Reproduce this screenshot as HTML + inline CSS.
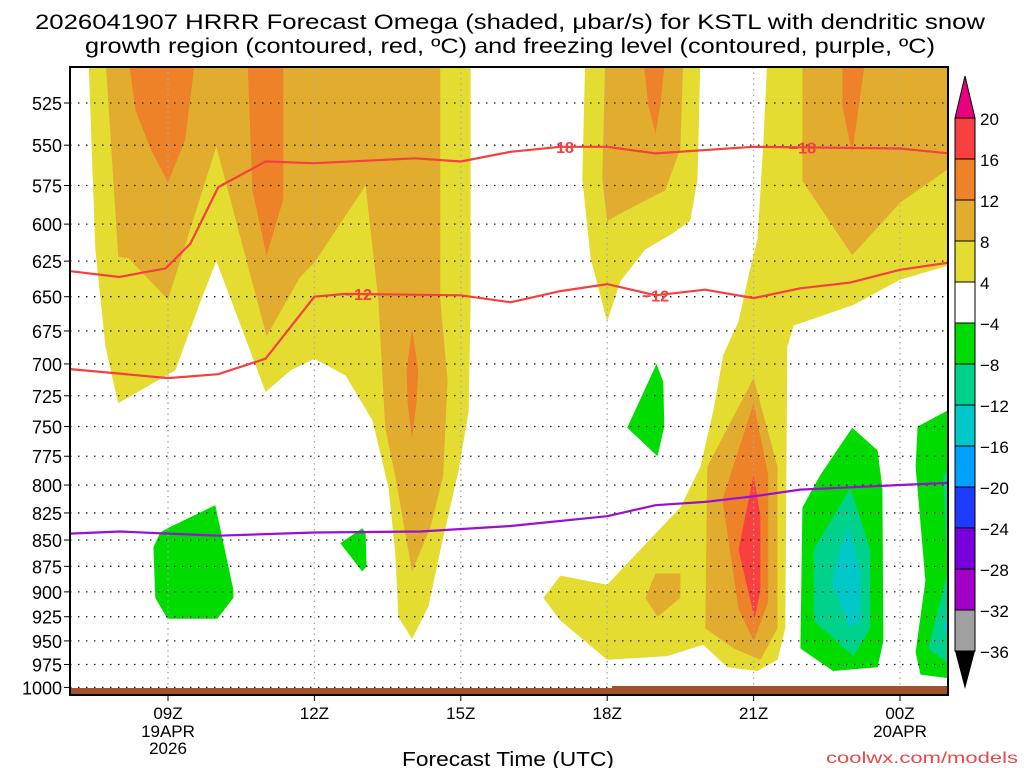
<!DOCTYPE html>
<html><head><meta charset="utf-8"><style>
body{margin:0;background:#fff;}
svg{display:block;font-family:"Liberation Sans",sans-serif;}
</style></head><body>
<svg id="chart" width="1024" height="768" viewBox="0 0 1024 768">
<defs><clipPath id="plotclip"><rect x="70" y="67" width="878" height="628"/></clipPath></defs>
<text x="510" y="29" font-size="21" text-anchor="middle" textLength="950" lengthAdjust="spacingAndGlyphs">2026041907 HRRR Forecast Omega (shaded, μbar/s) for KSTL with dendritic snow</text>
<text x="510" y="53" font-size="21" text-anchor="middle" textLength="850" lengthAdjust="spacingAndGlyphs">growth region (contoured, red, ºC) and freezing level (contoured, purple, ºC)</text>
<g id="plot" clip-path="url(#plotclip)"></g>
<g id="axes"></g>
<g id="cbar"></g>
<text x="508" y="766" font-size="20" text-anchor="middle" textLength="212" lengthAdjust="spacingAndGlyphs">Forecast Time (UTC)</text>
<text x="1018" y="763" font-size="16" fill="#e84848" text-anchor="end" textLength="192" lengthAdjust="spacingAndGlyphs">coolwx.com/models</text>
</svg>
<script>
// ---- data ----
const pressureTicks=[525,550,575,600,625,650,675,700,725,750,775,800,825,850,875,900,925,950,975,1000];
const hourTicks=[9,12,15,18,21,24];
const hourLabels=["09Z","12Z","15Z","18Z","21Z","00Z"];
const dateLabels={9:["19APR","2026"],24:["20APR"]};
const cbarLevels=[20,16,12,8,4,-4,-8,-12,-16,-20,-24,-28,-32,-36];
const cbarColors=["#f94040","#ee8228","#e2ad2e","#e5dc32","#ffffff","#00dc00","#00d28c","#00c8c8","#00a0ff","#1e3cff","#7800dc","#a000c8","#a0a0a0"];
// shaded regions [hour, hPa]
const yellowA=[[7.37,500],[15.2,500],[15.2,654],[15.16,738],[14.95,788],[14.58,860],[14.34,914],[14.0,948],[13.72,925],[13.66,864],[13.52,803],[13.19,745],[12.64,709],[12.0,696],[11.51,705],[11.0,722],[10.48,670],[9.99,625],[9.66,654],[9.15,705],[7.98,731],[7.72,687],[7.51,617]];
const goldA=[[7.72,500],[14.58,500],[14.58,652],[14.73,713],[14.64,792],[14.38,838],[14.0,880],[13.66,793],[13.45,751],[13.31,652],[13.05,575],[12.0,626],[11.71,636],[11.02,679],[9.99,551],[9.0,652],[8.19,623],[7.98,622]];
const orangeA1=[[8.19,500],[8.33,529],[8.64,552],[9.0,573],[9.35,547],[9.56,500]];
const orangeA2=[[10.63,500],[11.36,500],[11.36,584],[11.02,621],[10.73,578]];
const orangeA3=[[14.0,673],[14.13,705],[14.09,731],[14.0,760],[13.91,731],[13.89,705]];
const yellowB=[[17.55,500],[19.91,500],[19.85,571],[19.7,598],[19.3,607],[18.78,617],[18.27,639],[18.0,668],[17.66,623],[17.49,571]];
const goldB=[[17.96,500],[19.56,500],[19.5,552],[19.19,578],[18.27,593],[18.0,598],[17.9,571]];
const orangeB=[[18.74,500],[19.19,500],[19.09,526],[18.99,543],[18.84,526]];
const yellowC=[[21.28,500],[25.3,500],[25.3,625],[24.0,638],[23.04,656],[21.82,671],[21.69,687],[21.65,937],[21.49,970],[21.08,982],[20.46,978],[19.97,954],[19.23,966],[18.0,970],[17.04,929],[16.69,906],[17.04,884],[18.0,893],[18.82,852],[19.5,820],[19.91,784],[20.18,736],[20.38,693],[20.69,668],[20.93,630],[21.08,610],[21.2,548]];
const goldC=[[22.0,500],[25.3,500],[25.3,558],[24.0,586],[23.02,621],[22.0,572]];
const orangeC=[[22.82,500],[23.29,500],[23.02,555],[22.82,527]];
const goldSmall=[[18.78,906],[19.03,925],[19.5,906],[19.5,882],[18.99,882]];
const goldD=[[21.0,711],[21.49,784],[21.49,937],[21.14,970],[20.59,958],[20.01,937],[20.05,784]];
const orangeD=[[21.0,731],[21.3,791],[21.3,910],[21.0,950],[20.69,917],[20.36,813]];
const redD=[[21.0,791],[21.14,828],[21.14,898],[21.02,927],[20.69,859]];
const greenS=[[19.01,700],[19.15,714],[19.17,750],[19.03,775],[18.41,751]];
const green23=[[23.02,751],[23.54,770],[23.64,803],[23.66,950],[23.54,978],[22.63,982],[21.96,958],[22.0,820],[22.37,791]];
const teal23=[[22.98,803],[23.39,859],[23.39,937],[23.04,966],[22.23,929],[22.23,859]];
const cyan23=[[22.94,837],[23.19,882],[23.19,929],[22.98,937],[22.61,893],[22.72,866]];
const greenR=[[25.3,730],[24.36,750],[24.32,784],[24.52,889],[24.32,962],[24.42,986],[25.3,992]];
const tealR=[[25.3,773],[24.89,791],[24.97,882],[24.58,958],[25.3,986]];
const cyanR=[[25.3,886],[24.87,937],[25.3,958]];
const greenL=[[9.97,818],[10.34,898],[10.34,906],[10.01,927],[8.99,927],[8.74,906],[8.70,857],[8.84,843],[8.99,839]];
const greenL2=[[12.98,839],[13.05,843],[13.07,875],[12.98,880],[12.53,853]];
// contour lines
const m18Hours=[7,8,8.95,9.46,10.03,11,12,14.07,15,16.02,17.04,18,18.99,21,24,25];
const m18Press=[632,636,630,613,576,560,561,558,560,554,551,551,555,551,552,555];
const m12Hours=[7,9,10.03,11,12,12.64,15,16.02,17.04,18,18.99,20.01,21,21.96,22.98,24,25];
const m12Press=[704,711,708,696,650,648,649,654,646,641,649,645,651,644,640,631,626];
const frzHours=[7,8.02,9,10.03,12,14.17,16.02,18,18.99,20.01,21,21.96,22.98,25];
const frzPress=[844,842,844,846,843,842,837,828,818,815,810,804,802,798];
const m18LabelHours=[17.04,22.0];
const m12LabelHours=[12.9,18.99];

// ---- scales ----
const NS="http://www.w3.org/2000/svg";
function xOf(h){return 168+(h-9)*48.8;}
function yOf(p){return 103+907*Math.log(p/525);}
function mk(tag,attrs,parent){const e=document.createElementNS(NS,tag);for(const k in attrs)e.setAttribute(k,attrs[k]);parent.appendChild(e);return e;}
const plot=document.getElementById('plot'),axes=document.getElementById('axes'),cbar=document.getElementById('cbar');
mk('rect',{x:70,y:67,width:878,height:628,fill:'#fff'},plot);
const Y="#e5dc32",G="#e2ad2e",O="#ee8228",R="#f94040",GR="#00dc00",T="#00d28c",C="#00c8c8";
const regions=[[yellowA,Y,'omega-4-8-left'],[goldA,G,'omega-8-12-left'],[orangeA1,O,'omega-12-16-a'],[orangeA2,O,'omega-12-16-b'],[orangeA3,O,'omega-12-16-c'],
[yellowB,Y,'omega-4-8-mid'],[goldB,G,'omega-8-12-mid'],[orangeB,O,'omega-12-16-mid'],
[yellowC,Y,'omega-4-8-right'],[goldC,G,'omega-8-12-right'],[orangeC,O,'omega-12-16-right'],[goldSmall,G,'omega-8-12-small'],
[goldD,G,'omega-8-12-21z'],[orangeD,O,'omega-12-16-21z'],[redD,R,'omega-16-20-21z'],
[greenS,GR,'omega-neg4-19z'],[green23,GR,'omega-neg4-23z'],[teal23,T,'omega-neg8-23z'],[cyan23,C,'omega-neg12-23z'],
[greenR,GR,'omega-neg4-edge'],[tealR,T,'omega-neg8-edge'],[cyanR,C,'omega-neg12-edge'],[greenL,GR,'omega-neg4-09z'],[greenL2,GR,'omega-neg4-13z']];
regions.forEach(r=>{
  const e=mk('polygon',{points:r[0].map(d=>xOf(d[0]).toFixed(1)+','+yOf(d[1]).toFixed(1)).join(' '),fill:r[1]},plot);
  
  
});
// grid
pressureTicks.forEach(p=>{mk('line',{x1:70,x2:948,y1:yOf(p),y2:yOf(p),stroke:'#222','stroke-width':1.3,'stroke-dasharray':'1.5 6.5'},plot);});
hourTicks.forEach(h=>{mk('line',{x1:xOf(h),x2:xOf(h),y1:67,y2:695,stroke:'#aaa','stroke-width':1.3,'stroke-dasharray':'1.5 4'},plot);});
// ground
mk('rect',{x:70,y:688,width:878,height:8,fill:'#a0522d'},plot);
mk('rect',{x:612,y:686,width:336,height:10,fill:'#a0522d'},plot);
// lines
function line(hs,ps,col,name){const e=mk('polyline',{points:hs.map((h,i)=>xOf(h).toFixed(1)+','+yOf(ps[i]).toFixed(1)).join(' '),fill:'none',stroke:col,'stroke-width':2.2},plot);
  
  }
line(m18Hours,m18Press,'#f44040','contour-minus18');
line(m12Hours,m12Press,'#f44040','contour-minus12');
line(frzHours,frzPress,'#9a10d0','freezing-level-line');
function interp(hs,ps,h){for(let i=0;i<hs.length-1;i++){if(h>=hs[i]&&h<=hs[i+1]){const t=(h-hs[i])/(hs[i+1]-hs[i]);return ps[i]+t*(ps[i+1]-ps[i]);}}return ps[0];}
function lab(h,p,txt,name){const x=xOf(h),y=yOf(p);
  const e=mk('text',{x:x,y:y+6,'font-size':16,'font-weight':'bold',fill:'#f44040','text-anchor':'middle'},plot);e.textContent=txt;
  
  }
m18LabelHours.forEach(h=>lab(h,interp(m18Hours,m18Press,h),'−18','contour-label-minus18'));
m12LabelHours.forEach(h=>lab(h,interp(m12Hours,m12Press,h),'−12','contour-label-minus12'));
// frame
mk('rect',{x:70,y:67,width:878,height:628,fill:'none',stroke:'#000','stroke-width':2},axes);
pressureTicks.forEach(p=>{const y=yOf(p);mk('line',{x1:64,x2:70,y1:y,y2:y,stroke:'#000'},axes);
  const t=mk('text',{x:62,y:y+7,'font-size':18,'text-anchor':'end'},axes);t.textContent=p;
  
  });
hourTicks.forEach((h,i)=>{const x=xOf(h);mk('line',{x1:x,x2:x,y1:695,y2:701,stroke:'#000'},axes);
  const t=mk('text',{x:x,y:719,'font-size':17,'text-anchor':'middle'},axes);t.textContent=hourLabels[i];
  
  
  (dateLabels[h]||[]).forEach((s,j)=>{const d=mk('text',{x:x,y:737+j*17,'font-size':17,'text-anchor':'middle'},axes);d.textContent=s;
    
    });});
// colorbar
const cbTop=118,seg=41,cx=955,cw=20;
mk('polygon',{points:`${cx},${cbTop} ${cx+cw},${cbTop} ${cx+cw/2},76`,fill:'#e6007f',stroke:'#000'},cbar);
cbarColors.forEach((c,i)=>{const r=mk('rect',{x:cx,y:cbTop+i*seg,width:cw,height:seg,fill:c,stroke:'#000','stroke-width':1},cbar);
  
  });
const cbBot=cbTop+cbarColors.length*seg;
mk('polygon',{points:`${cx},${cbBot} ${cx+cw},${cbBot} ${cx+cw/2},689`,fill:'#000'},cbar);
cbarLevels.forEach((v,i)=>{const t=mk('text',{x:980,y:cbTop+i*seg+7,'font-size':17},cbar);t.textContent=(v<0?'−':'')+Math.abs(v);
  
  });
</script>
</body></html>
